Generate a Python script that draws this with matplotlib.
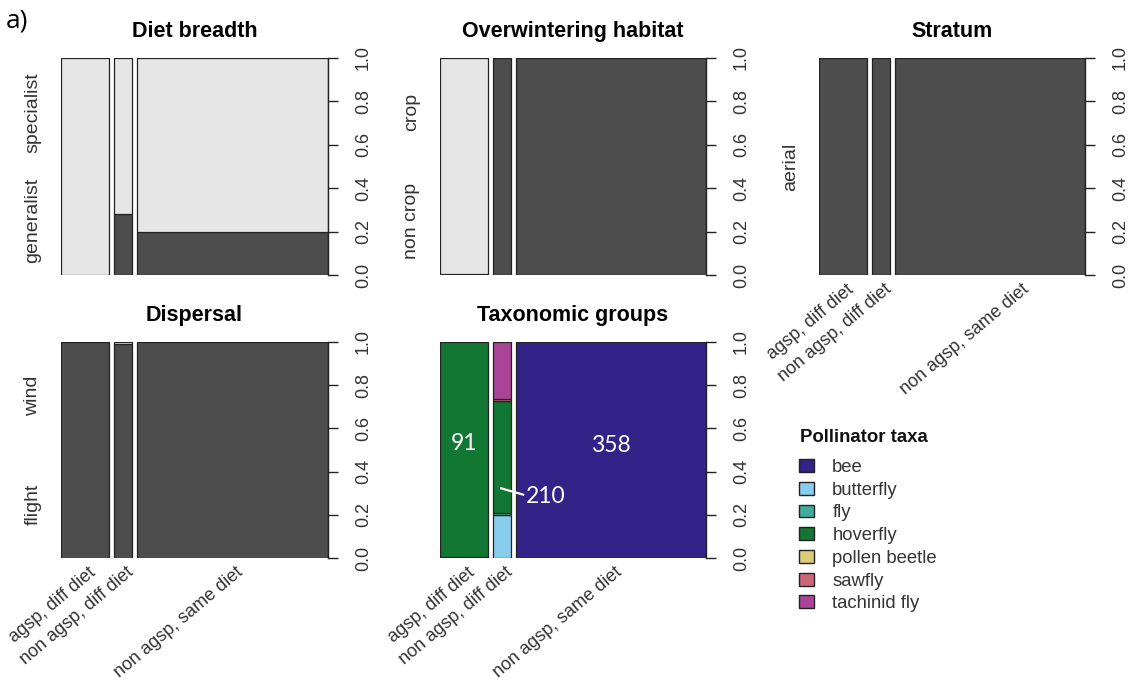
import numpy as np
import matplotlib
matplotlib.use("Agg")
import matplotlib.pyplot as plt
from matplotlib.transforms import offset_copy
from matplotlib.patches import Patch

plt.rcParams['font.family'] = ['Liberation Sans', 'DejaVu Sans']

# ---------------- data ----------------
groups = ["agsp, diff diet", "non agsp, diff diet", "non agsp, same diet"]
group_counts = [91, 34, 358]          # bar widths (spine plot)

diet_levels = ["generalist", "specialist"]
diet_props = [[0.00, 1.00], [0.28, 0.72], [0.20, 0.80]]

winter_levels = ["non crop", "crop"]
winter_props = [[0.005, 0.995], [1.0, 0.0], [1.0, 0.0]]

stratum_levels = ["aerial"]
stratum_props = [[1.0], [1.0], [1.0]]

dispersal_levels = ["flight", "wind"]
dispersal_props = [[1.0, 0.0], [0.99, 0.01], [1.0, 0.0]]

taxa = ["bee", "butterfly", "fly", "hoverfly", "pollen beetle", "sawfly", "tachinid fly"]
taxa_colors = ["#332288", "#88CCEE", "#44AA99", "#117733", "#DDCC77", "#CC6677", "#AA4499"]
taxa_props = [
    [0.004, 0.0, 0.0, 0.996, 0.0, 0.0, 0.0],
    [0.0, 0.20, 0.008, 0.52, 0.0, 0.008, 0.264],
    [1.0, 0.0, 0.0, 0.0, 0.0, 0.0, 0.0],
]
taxa_numbers = ["91", "210", "358"]

gray2 = ["#4D4D4D", "#E6E6E6"]
gray1 = ["#4D4D4D"]

W, H = 1135, 689
fig = plt.figure(figsize=(W / 100, H / 100), dpi=100)


def ax_at(x0, y0, x1, y1):
    return fig.add_axes([x0 / W, 1 - y1 / H, (x1 - x0) / W, (y1 - y0) / H])


GAP = 0.019
TXT = '#333333'


def spine(ax, props, levels, colors, title, xlabels, label_shift=(0, 0, 0)):
    counts = np.array(group_counts, dtype=float)
    shares = counts / counts.sum()
    lefts = np.concatenate([[0], np.cumsum(shares + GAP)[:-1]])
    total = shares.sum() + GAP * (len(shares) - 1)
    for i, (l, w) in enumerate(zip(lefts, shares)):
        bottom = 0.0
        for j, p in enumerate(props[i]):
            if p > 0:
                ax.bar(l, p, w, bottom=bottom, align='edge', color=colors[j],
                       edgecolor='#222222', linewidth=0.9)
            bottom += p
    ax.set_xlim(0, total)
    ax.set_ylim(0, 1)
    for s in ['top', 'left', 'bottom']:
        ax.spines[s].set_visible(False)
    ax.spines['right'].set_linewidth(1.0)
    ax.spines['right'].set_color('#222222')
    ax.yaxis.tick_right()
    ticks = np.round(np.arange(0, 1.01, 0.2), 1)
    ax.set_yticks(ticks)
    ax.set_yticklabels([f"{v:.1f}" for v in ticks],
                       rotation=90, va='center', fontsize=13, color=TXT)
    ax.tick_params(axis='y', length=7, width=1.0, color='#222222', pad=12.5)
    ax.set_xticks([])
    ax.set_title(title, fontsize=15.5, fontweight='bold', pad=15)
    n = len(levels)
    tr = offset_copy(ax.transAxes, fig=fig, x=-28, y=0, units='dots')
    for k, lab in enumerate(levels):
        ax.text(0, (k + 0.5) / n, lab, transform=tr, rotation=90,
                ha='center', va='center', fontsize=14, color=TXT)
    if xlabels:
        for l, w, g, sh in zip(lefts, shares, groups, label_shift):
            trx = offset_copy(ax.get_xaxis_transform(), fig=fig, x=3 + sh, y=-6,
                              units='dots')
            ax.text(l + w / 2, 0, g, transform=trx, rotation=40, ha='right',
                    va='top', rotation_mode='anchor', fontsize=13, color=TXT)
    return lefts, shares


spine(ax_at(61, 58, 328, 275), diet_props, diet_levels, gray2, "Diet breadth", False)
spine(ax_at(440, 58, 706, 275), winter_props, winter_levels, gray2, "Overwintering habitat", False)
spine(ax_at(819, 58, 1085, 275), stratum_props, stratum_levels, gray1, "Stratum", True,
      label_shift=(0, 0, 28))
spine(ax_at(61, 342, 328, 558), dispersal_props, dispersal_levels, gray2, "Dispersal", True)
ax5 = ax_at(440, 342, 706, 558)
lefts, shares = spine(ax5, taxa_props, [], taxa_colors, "Taxonomic groups", True)

num_font = ['Lato', 'DejaVu Sans']
ax5.text(lefts[0] + shares[0] / 2, 0.53, taxa_numbers[0], color='white',
         fontsize=16.5, ha='center', va='center', family=num_font)
ax5.text(lefts[2] + shares[2] / 2, 0.52, taxa_numbers[2], color='white',
         fontsize=16.5, ha='center', va='center', family=num_font)
c2 = lefts[1] + shares[1] / 2
ax5.plot([c2 - 0.008, c2 + 0.086], [0.324, 0.292], color='white', lw=1.6,
         solid_capstyle='butt')
ax5.text(c2 + 0.168, 0.283, taxa_numbers[1], color='white', fontsize=16.5,
         ha='center', va='center', family=num_font)

handles = [Patch(facecolor=c, edgecolor='#222222', linewidth=1.0) for c in taxa_colors]
leg = fig.legend(handles, taxa, loc='upper left', bbox_to_anchor=(799 / W, 1 - 459 / H),
                 frameon=False, fontsize=13.3, borderpad=0, borderaxespad=0,
                 handlelength=0.8, handleheight=0.7, handletextpad=1.0,
                 labelspacing=0.31)
for t in leg.get_texts():
    t.set_color(TXT)
fig.text(800 / W, 1 - 437 / H, "Pollinator taxa", fontsize=13.4, fontweight='bold',
         ha='left', va='center', color='#111111')

fig.text(6 / W, 1 - 21 / H, "a)", fontsize=19, va='center', ha='left',
         family=['Open Sans', 'DejaVu Sans'])

fig.savefig("out.png", dpi=100)
